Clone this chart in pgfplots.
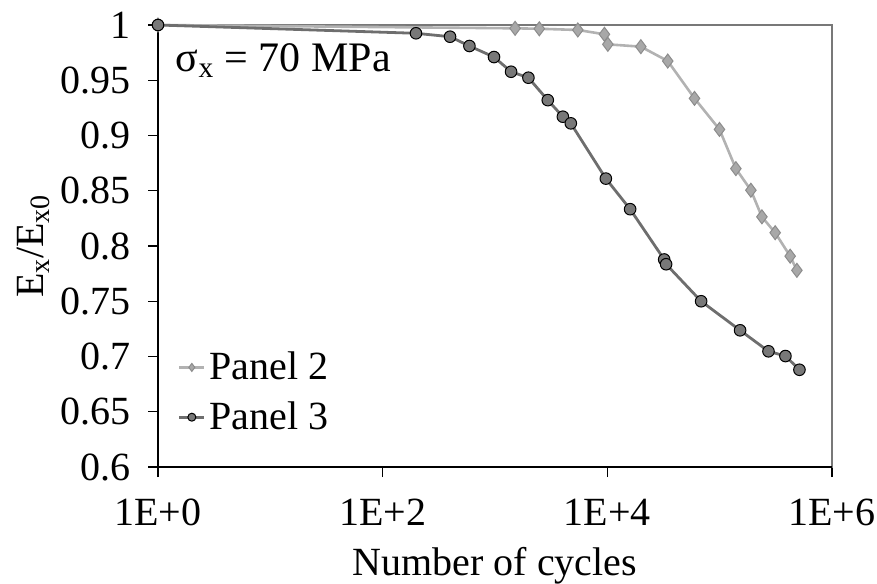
\documentclass[border=0pt]{standalone}
\usepackage{fontspec}
\setmainfont{Liberation Serif}
\usepackage{pgfplots}
\pgfplotsset{compat=1.18}
\definecolor{ptwoline}{RGB}{178,178,178}
\definecolor{ptwofill}{RGB}{168,168,168}
\definecolor{ptwoedge}{RGB}{140,140,140}
\definecolor{pthreeline}{RGB}{110,110,110}
\definecolor{pthreefill}{RGB}{120,120,120}
\definecolor{boxgray}{RGB}{120,120,120}
\newcommand{\bigf}{\fontsize{20}{24}\selectfont}
\begin{document}
\begin{tikzpicture}
\begin{axis}[name=ax, scale only axis, width=337pt, height=221pt,
 xmode=log, xmin=1, xmax=1e6, ymin=0.6, ymax=1,
 xtick={1,100,10000,1000000}, xticklabels={1E+0,1E+2,1E+4,1E+6}, minor xtick={},
 ytick={0.6,0.65,0.7,0.75,0.8,0.85,0.9,0.95,1},
 yticklabels={0.6,0.65,0.7,0.75,0.8,0.85,0.9,0.95,1},
 /pgf/number format/assume math mode=true,
 tick align=outside, xtick pos=bottom, ytick pos=left, major tick length=5pt,
 tick style={black, line width=0.6pt},
 axis line style={boxgray, line width=0.8pt},
 tick label style={font=\bigf},
 yticklabel style={anchor=east, xshift=-5pt},
 xticklabel style={anchor=base, yshift=-24pt},
 every axis y label/.style={at={(axis description cs:-0.1706,0.5)}, rotate=90, anchor=base, font=\bigf},
 every axis x label/.style={at={(axis description cs:0.5,-0.245)}, anchor=base, font=\bigf},
 xlabel={Number of cycles},
 ylabel={E\textsubscript{x}/E\textsubscript{x0}},
 legend style={draw=none, fill=none, at={(rel axis cs:0.029,0.270)}, anchor=north west,
   font=\bigf, row sep=5.5pt, inner sep=0pt,
   /tikz/every even column/.append style={column sep=0pt}},
 legend cell align=left,
 legend image code/.code={\draw[#1, mark=none] (0pt,0pt) -- (12.5pt,0pt); \draw[#1, only marks, mark size=2pt] plot coordinates {(6.25pt,0pt)};},
 clip=false,
]
\addplot[color=ptwoline, line width=1.3pt, mark=diamond*, mark size=3.5pt,
  mark options={fill=ptwofill, draw=ptwoedge, line width=0.5pt}]
 coordinates {(1,1) (1510,0.997) (2480,0.9966) (5460,0.9955) (9420,0.9916) (10100,0.9825)
 (19870,0.9804) (34500,0.9674) (59700,0.9336) (99600,0.9055) (139400,0.870)
 (189600,0.8505) (237600,0.8264) (312000,0.812) (424000,0.7908) (487000,0.778)};
\addlegendentry{Panel 2}
\addplot[color=pthreeline, line width=1.4pt, mark=*, mark size=2.9pt,
  mark options={fill=pthreefill, draw=black, line width=0.5pt}]
 coordinates {(1,1) (198,0.9925) (398,0.9894) (592,0.981) (980,0.971) (1390,0.9577)
 (1983,0.9523) (2950,0.932) (4020,0.917) (4730,0.911) (9700,0.861) (15960,0.8333)
 (32060,0.7878) (33360,0.7835) (68400,0.75) (152000,0.7237) (272000,0.7047)
 (385000,0.7004) (513000,0.688)};
\addlegendentry{Panel 3}
\draw[black, line width=0.8pt] (rel axis cs:0,1) -- (rel axis cs:0,0) -- (rel axis cs:1,0);
\node[anchor=base west, font=\fontsize{21}{25}\selectfont, inner sep=0pt] at (rel axis cs:0.026,0.895) {σ\textsubscript{x} = 70 MPa};
\end{axis}
\pgfresetboundingbox
\path ([shift={(-79pt,-58pt)}]ax.south west) rectangle ([shift={(22.5pt,12.5pt)}]ax.north east);
\end{tikzpicture}
\end{document}
